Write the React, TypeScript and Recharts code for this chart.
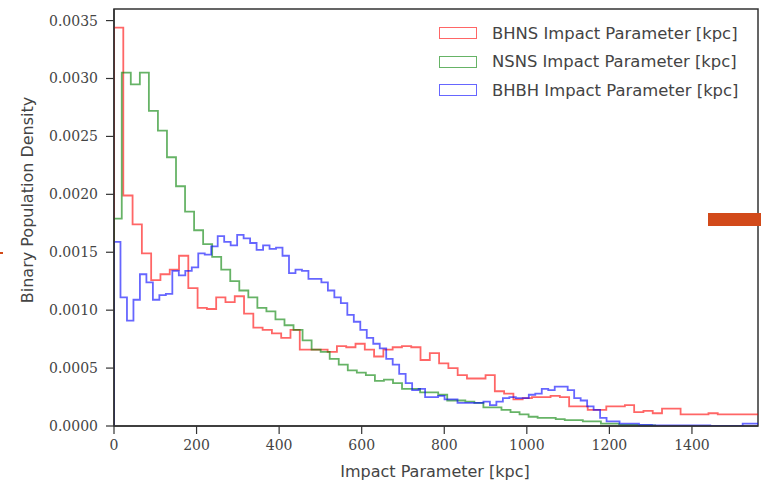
import { LineChart, Line, XAxis, YAxis, Legend, ReferenceArea, Label } from "recharts";

// axis setup
const X_MAX = 1560;
const Y_MAX = 0.0036;
const X_TICKS = [0, 200, 400, 600, 800, 1000, 1200, 1400];
const Y_TICKS = [0, 0.0005, 0.001, 0.0015, 0.002, 0.0025, 0.003, 0.0035];

// histogram bins (kpc)
const BHNS_BIN = 22.5;
const NSNS_FIRST_EDGE = 18.8;
const NSNS_BIN = 21.9;
const BHBH_BIN = 15.7;

const BHNS_VALUES = [
  0.00344, 0.00199, 0.00174, 0.00149, 0.00126, 0.00131, 0.00135, 0.00147, 0.00119, 0.00102,
  0.00101, 0.00111, 0.00107, 0.00112, 0.00097, 0.00085, 0.00083, 0.0008, 0.00076, 0.00083,
  0.00066, 0.00066, 0.00066, 0.00064, 0.00069, 0.00068, 0.00071, 0.00066, 0.0006, 0.00066,
  0.00068, 0.00069, 0.00068, 0.00057, 0.00063, 0.00054, 0.0005, 0.00044, 0.00041, 0.00041,
  0.00044, 0.0003, 0.00028, 0.00023, 0.00024, 0.00025, 0.00025, 0.00026, 0.00025, 0.00017,
  0.00017, 0.00014, 0.00014, 0.00017, 0.00017, 0.00018, 0.00012, 0.00013, 0.00011, 0.00015,
  0.00015, 0.0001, 0.0001, 0.0001, 0.00011, 0.0001, 0.0001, 0.0001, 0.0001, 0.0001,
];

const NSNS_VALUES = [
  0.00179, 0.00305, 0.00295, 0.00305, 0.00272, 0.00255, 0.00232, 0.00207, 0.00185, 0.00169,
  0.00157, 0.00146, 0.00135, 0.00125, 0.00117, 0.00111, 0.00102, 0.00099, 0.00092, 0.00087,
  0.00083, 0.00074, 0.00066, 0.00064, 0.00058, 0.00053, 0.00048, 0.00046, 0.00044, 0.00039,
  0.0004, 0.00037, 0.00032, 0.00032, 0.00029, 0.00029, 0.00027, 0.00022, 0.00022, 0.00021,
  0.0002, 0.00016, 0.00016, 0.00014, 0.00012, 0.0001, 0.00008, 0.00007, 0.00007, 0.00006,
  0.00005, 0.00005, 0.00004, 0.00004, 0.00002, 0.00002, 0.00001, 0.00001, 0.000005, 0.000005,
];

const BHBH_VALUES = [
  0.00159, 0.00111, 0.00091, 0.00109, 0.00131, 0.00124, 0.00109, 0.00113, 0.00114, 0.00134,
  0.0013, 0.00134, 0.00137, 0.00149, 0.00148, 0.00155, 0.00164, 0.00159, 0.00156, 0.00165,
  0.00162, 0.00158, 0.00152, 0.00156, 0.00153, 0.00154, 0.00147, 0.00132, 0.00135, 0.00134,
  0.00127, 0.00127, 0.00124, 0.00117, 0.00111, 0.00106, 0.00096, 0.0009, 0.00083, 0.00076,
  0.00071, 0.00067, 0.00058, 0.00053, 0.00045, 0.00037, 0.00031, 0.00032, 0.00025, 0.00025,
  0.00026, 0.00023, 0.00023, 0.0002, 0.0002, 0.0002, 0.0002, 0.00021, 0.00018, 0.00021,
  0.00024, 0.00025, 0.00024, 0.00024, 0.00027, 0.00028, 0.00032, 0.00031, 0.00034, 0.00034,
  0.00031, 0.00024, 0.00022, 0.00017, 0.00014, 0.00007, 0.00004, 0.00004, 0.00002, 0.00002,
  0.00002, 0.00001, 0.00001, 0.000005, 0.000005, 0.000005, 0.000005, 0.000005, 0.000005, 0.000005,
  0.000005, 0.000005, 0, 0, 0, 0, 0, 0.00002, 0.00002, 0.00002,
];

const bhnsEdges = Array.from({ length: BHNS_VALUES.length + 1 }, (_, i) => i * BHNS_BIN);
const nsnsEdges = [0, ...Array.from({ length: NSNS_VALUES.length }, (_, i) => NSNS_FIRST_EDGE + i * NSNS_BIN)];
const bhbhEdges = Array.from({ length: BHBH_VALUES.length + 1 }, (_, i) => i * BHBH_BIN);

// matplotlib "step" histogram outline: rise at first edge, fall at last edge
const toSteps = (edges: number[], values: number[]) => {
  const n = values.length;
  return [
    { x: edges[0], y: 0 },
    ...values.map((v, i) => ({ x: edges[i], y: v })),
    { x: edges[n], y: values[n - 1] },
    { x: edges[n], y: 0 },
  ];
};

const SERIES = [
  { name: "BHNS Impact Parameter [kpc]", color: "#ff0000", data: toSteps(bhnsEdges, BHNS_VALUES) },
  { name: "NSNS Impact Parameter [kpc]", color: "#008000", data: toSteps(nsnsEdges, NSNS_VALUES) },
  { name: "BHBH Impact Parameter [kpc]", color: "#0000ff", data: toSteps(bhbhEdges, BHBH_VALUES) },
];

const AXIS_COLOR = "#333";
const TICK_STYLE = { fill: "#444", fontFamily: "DejaVu Serif", fontSize: 14 };
const LABEL_FONT = "DejaVu Sans";

const renderLegend = () => (
  <div style={{ fontFamily: LABEL_FONT, fontSize: 16.4, color: "#444" }}>
    {SERIES.map((s) => (
      <div key={s.name} style={{ display: "flex", alignItems: "center", height: 28.5 }}>
        <span
          style={{
            display: "inline-block",
            width: 36,
            height: 10,
            border: `1.5px solid ${s.color}`,
            opacity: 0.6,
            marginRight: 15,
          }}
        />
        <span style={{ whiteSpace: "nowrap" }}>{s.name}</span>
      </div>
    ))}
  </div>
);

const App = () => {
  return (
    <div style={{ position: "absolute", left: 0, top: 0, width: 761, height: 490 }}>
      <LineChart width={761} height={490} margin={{ top: 9, right: 3, bottom: 0, left: 0 }}>
        <XAxis
          type="number"
          dataKey="x"
          domain={[0, X_MAX]}
          ticks={X_TICKS}
          allowDataOverflow
          height={64}
          tick={TICK_STYLE}
          tickSize={8}
          tickMargin={6}
          axisLine={{ stroke: AXIS_COLOR, strokeWidth: 1.5 }}
          tickLine={{ stroke: AXIS_COLOR, strokeWidth: 1.2 }}
        >
          <Label
            content={() => (
              <text x={435} y={471} textAnchor="middle" dominantBaseline="central" fill="#444" fontFamily={LABEL_FONT} fontSize={16}>
                Impact Parameter [kpc]
              </text>
            )}
          />
        </XAxis>
        <YAxis
          type="number"
          dataKey="y"
          domain={[0, Y_MAX]}
          ticks={Y_TICKS}
          allowDataOverflow
          width={114}
          tick={TICK_STYLE}
          tickFormatter={(v: number) => v.toFixed(4)}
          tickSize={8}
          tickMargin={8}
          axisLine={{ stroke: AXIS_COLOR, strokeWidth: 1.5 }}
          tickLine={{ stroke: AXIS_COLOR, strokeWidth: 1.2 }}
        >
          <Label
            content={() => (
              <text x={27} y={200} transform="rotate(-90 27 200)" textAnchor="middle" dominantBaseline="central" fill="#444" fontFamily={LABEL_FONT} fontSize={16}>
                Binary Population Density
              </text>
            )}
          />
        </YAxis>
        <ReferenceArea x1={0} x2={X_MAX} y1={0} y2={Y_MAX} fill="none" stroke={AXIS_COLOR} strokeWidth={1.5} />
        {SERIES.map((s) => (
          <Line
            key={s.name}
            data={s.data}
            dataKey="y"
            name={s.name}
            type="stepAfter"
            stroke={s.color}
            strokeOpacity={0.6}
            strokeWidth={1.8}
            dot={false}
            activeDot={false}
            isAnimationActive={false}
          />
        ))}
        <Legend
          layout="vertical"
          align="center"
          verticalAlign="middle"
          content={renderLegend}
          wrapperStyle={{ top: 19, left: 439, width: 320, height: 90 }}
        />
      </LineChart>
      {/* stray marks in the source image */}
      <div style={{ position: "absolute", left: 708, top: 213, width: 53, height: 13, background: "#d24a1a" }} />
      <div style={{ position: "absolute", left: 0, top: 252, width: 3, height: 2, background: "#d24a1a" }} />
    </div>
  );
};

export default App;
